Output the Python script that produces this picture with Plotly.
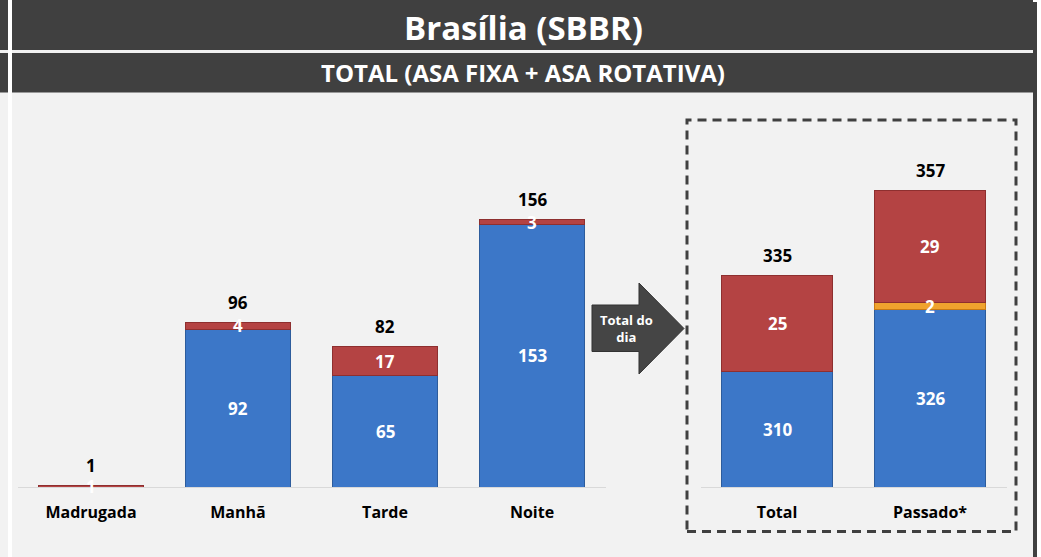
import plotly.graph_objects as go

W, H = 1041, 557

# ---------------- data ----------------
periods = ["Madrugada", "Manhã", "Tarde", "Noite"]
blue_left = [0, 92, 65, 153]
orange_left = [0, 0, 0, 0]
red_left = [1, 4, 17, 3]

compare = ["Total", "Passado*"]
blue_right = [310, 326]
orange_right = [0, 2]
red_right = [25, 29]

title_text = "Brasília (SBBR)"
subtitle_text = "TOTAL (ASA FIXA + ASA ROTATIVA)"
arrow_text = "Total do<br>dia"

# ---------------- styles ----------------
FONT = "Open Sans"
BLUE = "#3c77c8"
BLUE_EDGE = "#2d5c9c"
RED = "#b44343"
RED_EDGE = "#8e2f2f"
ORANGE = "#f0a32e"
ORANGE_EDGE = "#c97a14"
DARK = "#404040"


def px(x):
    return x / W


def py(y):
    return 1 - y / H


base_px = 487.0
top_px = 120.0
left_k = 1.713
right_min = 280
right_k = 3.85
left_max = (base_px - top_px) / left_k
right_max = right_min + (base_px - top_px) / right_k

fig = go.Figure()

series = [
    ("Série azul", blue_left, blue_right, BLUE, BLUE_EDGE),
    ("Série laranja", orange_left, orange_right, ORANGE, ORANGE_EDGE),
    ("Série vermelha", red_left, red_right, RED, RED_EDGE),
]
for name, lv, rv, col, edge in series:
    fig.add_trace(go.Bar(x=periods, y=lv, name=name, marker=dict(color=col, line=dict(color=edge, width=1)),
                         xaxis="x", yaxis="y", showlegend=False, hoverinfo="x+y+name"))
    fig.add_trace(go.Bar(x=compare, y=rv, name=name, marker=dict(color=col, line=dict(color=edge, width=1)),
                         xaxis="x2", yaxis="y2", showlegend=False, hoverinfo="x+y+name"))

annotations = []


def add_labels(cats, stacks, xref, yref, ymin):
    for i, c in enumerate(cats):
        cum = 0
        for vals in stacks:
            v = vals[i]
            lo, hi = cum, cum + v
            cum = hi
            if v == 0:
                continue
            mid = (max(lo, ymin) + hi) / 2
            annotations.append(dict(x=c, y=mid, xref=xref, yref=yref, text=f"<b>{v}</b>", showarrow=False,
                                    font=dict(family=FONT, size=17, color="white"), yanchor="middle"))
        annotations.append(dict(x=c, y=cum, xref=xref, yref=yref, text=f"<b>{cum}</b>", showarrow=False,
                                font=dict(family=FONT, size=17, color="black"), yanchor="middle", yshift=20))


add_labels(periods, [blue_left, orange_left, red_left], "x", "y", 0)
add_labels(compare, [blue_right, orange_right, red_right], "x2", "y2", right_min)

annotations += [
    dict(x=px(523), y=py(27), xref="paper", yref="paper", text=f"<b>{title_text}</b>", showarrow=False,
         font=dict(family=FONT, size=33, color="white"), xanchor="center", yanchor="middle"),
    dict(x=px(523), y=py(73), xref="paper", yref="paper", text=f"<b>{subtitle_text}</b>", showarrow=False,
         font=dict(family=FONT, size=24, color="white"), xanchor="center", yanchor="middle"),
    dict(x=px(626), y=py(328), xref="paper", yref="paper", text=f"<b>{arrow_text}</b>", showarrow=False,
         font=dict(family=FONT, size=13, color="white"), xanchor="center", yanchor="middle"),
]

arrow_pts = [(592, 305), (639, 305), (639, 283), (684, 328.5), (639, 374), (639, 351.5), (592, 351.5)]
arrow_path = "M " + " L ".join(f"{px(x):.5f},{py(y):.5f}" for x, y in arrow_pts) + " Z"

shapes = [
    dict(type="rect", xref="paper", yref="paper", x0=0, x1=px(1033), y0=0, y1=1, fillcolor="#f2f2f2",
         line=dict(width=0), layer="below"),
    dict(type="rect", xref="paper", yref="paper", x0=0, x1=px(1033), y0=py(50), y1=1, fillcolor=DARK,
         line=dict(width=0), layer="below"),
    dict(type="rect", xref="paper", yref="paper", x0=0, x1=px(1033), y0=py(92.5), y1=py(53), fillcolor=DARK,
         line=dict(width=0), layer="below"),
    dict(type="rect", xref="paper", yref="paper", x0=px(8), x1=px(12), y0=0, y1=1, fillcolor="white",
         line=dict(width=0), layer="below"),
    dict(type="rect", xref="paper", yref="paper", x0=px(1033), x1=px(1037), y0=0, y1=py(2), fillcolor=DARK,
         line=dict(width=0), layer="below"),
    dict(type="rect", xref="paper", yref="paper", x0=px(687), x1=px(1016), y0=py(531.5), y1=py(120),
         line=dict(color=DARK, width=3, dash="9px,6px"), fillcolor="rgba(0,0,0,0)", layer="above"),
    dict(type="path", xref="paper", yref="paper", path=arrow_path, fillcolor="#454545",
         line=dict(color="#333333", width=1), layer="above"),
]

axis_font = dict(family=FONT, size=16, color="black")
fig.update_layout(
    width=W, height=H, autosize=False,
    margin=dict(l=0, r=0, t=0, b=0),
    paper_bgcolor="white", plot_bgcolor="rgba(0,0,0,0)",
    barmode="stack", bargap=0.28,
    showlegend=False,
    xaxis=dict(domain=[px(17.5), px(605.5)], range=[-0.5, 3.5], showgrid=False, zeroline=False,
               showline=True, linecolor="#d9d9d9", linewidth=1, ticks="", tickfont=axis_font,
               ticklabelstandoff=11, anchor="y", fixedrange=True,
               tickvals=periods, ticktext=[f"<b>{p}</b>" for p in periods]),
    xaxis2=dict(domain=[px(700.5), px(1006.5)], range=[-0.5, 1.5], showgrid=False, zeroline=False,
                showline=True, linecolor="#d9d9d9", linewidth=1, ticks="", tickfont=axis_font,
                ticklabelstandoff=11, anchor="y2", fixedrange=True,
                tickvals=compare, ticktext=[f"<b>{c}</b>" for c in compare]),
    yaxis=dict(domain=[py(base_px), py(top_px)], range=[0, left_max], visible=False, fixedrange=True),
    yaxis2=dict(domain=[py(base_px), py(top_px)], range=[right_min, right_max], visible=False,
                fixedrange=True, anchor="x2"),
    annotations=annotations,
    shapes=shapes,
)

fig.write_html("out.html", config={"displayModeBar": False},
               post_script="document.body.style.margin='0';document.body.style.overflow='hidden';")
